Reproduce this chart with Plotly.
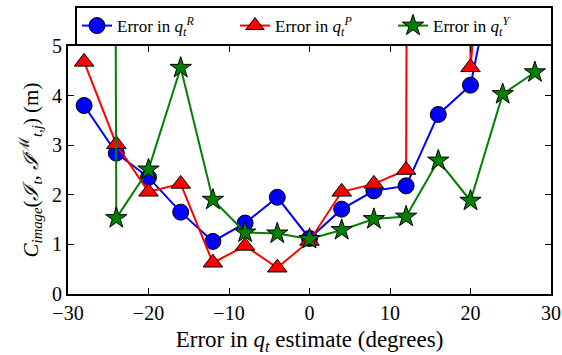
import plotly.graph_objects as go

x_deg = [-28, -24, -20, -16, -12, -8, -4, 0, 4, 8, 12, 16, 20, 24, 28]
err_R = [3.80, 2.84, 2.35, 1.65, 1.06, 1.43, 1.95, 1.12, 1.71, 2.08, 2.18, 3.62, 4.21, 7.4, 9.0]
err_P = [4.68, 3.02, 2.06, 2.22, 0.63, 0.97, 0.53, 1.07, 2.06, 2.22, 2.50, 200.0, 4.57, 12.0, 15.0]
err_Y = [200.0, 1.53, 2.51, 4.56, 1.90, 1.24, 1.22, 1.11, 1.29, 1.51, 1.56, 2.69, 1.88, 4.03, 4.47]

x_ticks = [-30, -20, -10, 0, 10, 20, 30]
y_ticks = [0, 1, 2, 3, 4, 5]

FONT = "Liberation Serif"

fig = go.Figure()
series = [
    (err_R, "blue", "circle", 16, "Error in <i>q</i><sub><i>t</i></sub><sup><i>R</i></sup>"),
    (err_P, "red", "triangle-up", 17, "Error in <i>q</i><sub><i>t</i></sub><sup><i>P</i></sup>"),
    (err_Y, "green", "star", 16, "Error in <i>q</i><sub><i>t</i></sub><sup><i>Y</i></sup>"),
]
for vals, col, sym, sz, name in series:
    fig.add_trace(go.Scatter(
        x=x_deg, y=vals, mode="lines+markers", name=name,
        line=dict(color=col, width=2),
        marker=dict(symbol=sym, size=sz, color=col, line=dict(color="black", width=1)),
        cliponaxis=True,
    ))

fig.update_layout(
    width=562, height=355,
    margin=dict(l=68, r=11, t=46, b=61, autoexpand=False),
    paper_bgcolor="white", plot_bgcolor="white",
    font=dict(family=FONT, size=20, color="black"),
    showlegend=True,
    legend=dict(
        orientation="h", xref="container", x=553 / 562, xanchor="right",
        yref="container", y=0.983, yanchor="top",
        bordercolor="black", borderwidth=2, bgcolor="white",
        font=dict(family=FONT, size=17),
        entrywidth=113, itemwidth=30,
    ),
    xaxis=dict(
        range=[-30, 30], tickvals=x_ticks, ticktext=[("\u2212" + str(-t)) if t < 0 else str(t) for t in x_ticks],
        ticks="inside", ticklen=6, tickwidth=1, tickcolor="black",
        showline=True, linecolor="black", linewidth=2, mirror="ticks",
        showgrid=False, zeroline=False, automargin=False,
        title=dict(text="Error in <i>q</i><sub><i>t</i></sub> estimate (degrees)", standoff=12,
                   font=dict(size=23)),
    ),
    yaxis=dict(
        range=[0, 5], tickvals=y_ticks,
        ticks="inside", ticklen=6, tickwidth=1, tickcolor="black",
        showline=True, linecolor="black", linewidth=2, mirror="ticks",
        showgrid=False, zeroline=False, automargin=False,
        title=dict(text="<i>C</i><sub><i>image</i></sub>(<i>\u2110</i><sub><i>t</i></sub>, <i>\u2110</i><sup>\u2133</sup><sub><i>t,j</i></sub>) (m)", standoff=8,
                   font=dict(size=21)),
    ),
)

fig.write_html("out.html")
